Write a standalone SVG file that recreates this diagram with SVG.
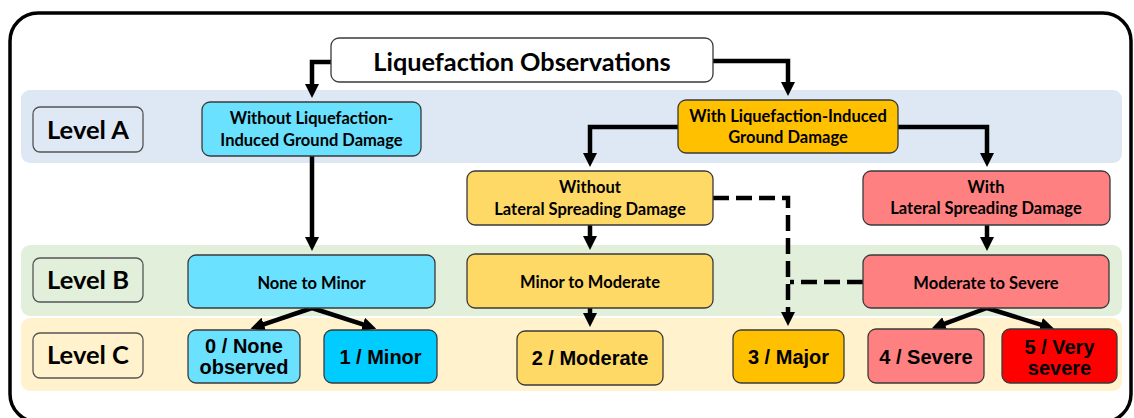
<svg xmlns="http://www.w3.org/2000/svg" width="1134" height="418" viewBox="0 0 1134 418">
<style>
.band{stroke:none}
.lvl{stroke:#555;stroke-width:1.3}
.box{stroke:#3a3a3a;stroke-width:1.3}
.t{font-family:Lato,"Liberation Sans",sans-serif;font-weight:bold;fill:#000;text-anchor:middle}
.tl{font-size:25.5px}
.tb{font-size:16.5px}
.tt{font-size:25.3px}
.tc{font-family:"Liberation Sans",Arial,sans-serif;font-weight:bold;font-size:20px;fill:#000;text-anchor:middle}
.c{fill:none;stroke:#000;stroke-width:4.5;stroke-linejoin:miter}
.d{fill:none;stroke:#000;stroke-width:4.5;stroke-dasharray:16 7}
</style>
<defs>
<marker id="ah" markerUnits="userSpaceOnUse" markerWidth="14" markerHeight="14" viewBox="0 0 14 14" refX="4" refY="7" orient="auto">
<path d="M0,0 L14,7 L0,14 z" fill="#000"/>
</marker>
</defs>
<rect x="10" y="13" width="1121" height="409" rx="28" fill="#fff" stroke="#000" stroke-width="3.5"/>
<g id="bands">
<rect class="band" x="21" y="90" width="1101" height="73" rx="9" fill="#dde8f4"/>
<rect class="band" x="21" y="245" width="1101" height="71" rx="9" fill="#e2efda"/>
<rect class="band" x="21" y="318" width="1101" height="73" rx="9" fill="#fff2cc"/>
</g>
<g id="levelA"><rect class="lvl" x="33" y="107" width="110" height="45" rx="7" fill="#dfe9f5"/><text class="t tl" x="88" y="139">Level A</text></g>
<g id="levelB"><rect class="lvl" x="33" y="258" width="110" height="44" rx="7" fill="#e2efda"/><text class="t tl" x="88" y="289">Level B</text></g>
<g id="levelC"><rect class="lvl" x="33" y="333" width="110" height="45" rx="7" fill="#fff2cc"/><text class="t tl" x="88" y="364">Level C</text></g>
<g id="connectors">
<path class="c" d="M331,62 H312 V88" marker-end="url(#ah)"/>
<path class="c" d="M713,61 H788 V86" marker-end="url(#ah)"/>
<path class="c" d="M678,127 H590 V157" marker-end="url(#ah)"/>
<path class="c" d="M898,127 H987 V157" marker-end="url(#ah)"/>
<path class="c" d="M312,156 V241" marker-end="url(#ah)"/>
<path class="c" d="M590,225 V240" marker-end="url(#ah)"/>
<path class="c" d="M987,225 V241" marker-end="url(#ah)"/>
<path class="c" d="M590,308 V317" marker-end="url(#ah)"/>
<path class="c" d="M312,308 L260,325.6" marker-end="url(#ah)"/>
<path class="c" d="M312,308 L366.7,325.7" marker-end="url(#ah)"/>
<path class="c" d="M987,308 L941,325.1" marker-end="url(#ah)"/>
<path class="c" d="M987,308 L1044.6,325.9" marker-end="url(#ah)"/>
<path class="d" d="M713,198 H788 V316" marker-end="url(#ah)"/>
<path class="d" d="M863,282 H790"/>
</g>
<g id="title"><rect class="box" x="331" y="38" width="382" height="44" rx="8" fill="#fff"/><text class="t tt" x="522" y="70.5">Liquefaction Observations</text></g>
<g id="withoutLiq"><rect class="box" x="202" y="102" width="219" height="54" rx="8" fill="#69e1ff"/><text class="t tb" x="311.5" y="124">Without Liquefaction-</text><text class="t tb" x="311.5" y="146">Induced Ground Damage</text></g>
<g id="withLiq"><rect class="box" x="678" y="100" width="220" height="53" rx="8" fill="#ffc000"/><text class="t tb" x="788" y="122">With Liquefaction-Induced</text><text class="t tb" x="788" y="143">Ground Damage</text></g>
<g id="withoutLat"><rect class="box" x="467" y="171" width="246" height="54" rx="8" fill="#ffd966"/><text class="t tb" x="590" y="193">Without</text><text class="t tb" x="590" y="215">Lateral Spreading Damage</text></g>
<g id="withLat"><rect class="box" x="863" y="171" width="247" height="54" rx="8" fill="#ff8080"/><text class="t tb" x="986" y="193">With</text><text class="t tb" x="986" y="214">Lateral Spreading Damage</text></g>
<g id="noneMinor"><rect class="box" x="188" y="255" width="247" height="53" rx="8" fill="#69e1ff"/><text class="t tb" x="311.5" y="288.5">None to Minor</text></g>
<g id="minorModerate"><rect class="box" x="467" y="254" width="246" height="54" rx="8" fill="#ffd966"/><text class="t tb" x="590" y="288">Minor to Moderate</text></g>
<g id="moderateSevere"><rect class="box" x="863" y="255" width="246" height="53" rx="8" fill="#ff8080"/><text class="t tb" x="986" y="288.5">Moderate to Severe</text></g>
<g id="c0"><rect class="box" x="188" y="330" width="112" height="53" rx="8" fill="#69e1ff"/><text class="tc" x="244" y="353">0 / None</text><text class="tc" x="244" y="374">observed</text></g>
<g id="c1"><rect class="box" x="324" y="330" width="113" height="53" rx="8" fill="#00ccff"/><text class="tc" x="380.5" y="364">1 / Minor</text></g>
<g id="c2"><rect class="box" x="517" y="331" width="146" height="54" rx="8" fill="#ffd966"/><text class="tc" x="590" y="365">2 / Moderate</text></g>
<g id="c3"><rect class="box" x="733" y="330" width="111" height="53" rx="8" fill="#ffc000"/><text class="tc" x="788.5" y="364">3 / Major</text></g>
<g id="c4"><rect class="box" x="868" y="329" width="116" height="54" rx="8" fill="#ff8080"/><text class="tc" x="926" y="364">4 / Severe</text></g>
<g id="c5"><rect class="box" x="1002" y="329" width="115" height="54" rx="8" fill="#ff0000"/><text class="tc" x="1059.5" y="354">5 / Very</text><text class="tc" x="1059.5" y="375">severe</text></g>
</svg>
